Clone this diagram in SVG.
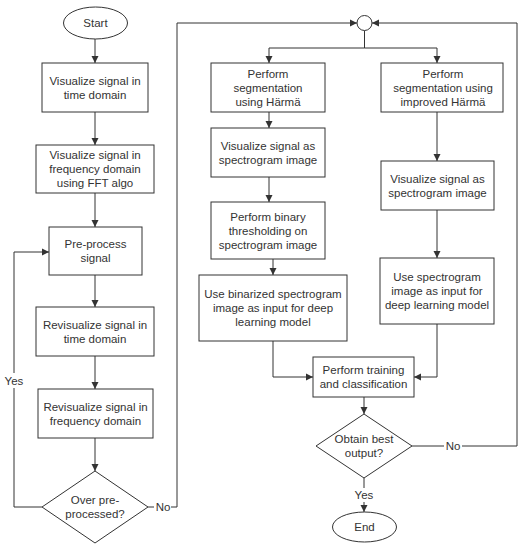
<svg xmlns="http://www.w3.org/2000/svg" width="524" height="550" viewBox="0 0 524 550">
<style>
.n{fill:#fff;stroke:#333;stroke-width:1}
.t{font-family:"Liberation Sans",Arial,sans-serif;font-size:11.5px;fill:#333;text-anchor:middle}
.c{fill:none;stroke:#333;stroke-width:1}
.lb{fill:#fff}
</style>
<defs>
<marker id="ah" markerWidth="8" markerHeight="8" refX="7" refY="4" orient="auto" markerUnits="userSpaceOnUse">
<path d="M0,0.5 L7,4 L0,7.5 Z" fill="#333"/>
</marker>
</defs>
<rect width="524" height="550" fill="#fff"/>
<g id="connectors">
<path class="c" d="M95,39 V63" marker-end="url(#ah)"/>
<path class="c" d="M95,112 V145" marker-end="url(#ah)"/>
<path class="c" d="M95,193 V227" marker-end="url(#ah)"/>
<path class="c" d="M95,275 V307" marker-end="url(#ah)"/>
<path class="c" d="M95,356 V389" marker-end="url(#ah)"/>
<path class="c" d="M95,438 V471" marker-end="url(#ah)"/>
<path class="c" d="M42,507 H14 V252 H49" marker-end="url(#ah)"/>
<path class="c" d="M148,507 H177 V23 H357" marker-end="url(#ah)"/>
<path class="c" d="M364.5,30.5 V48 H269 V63" marker-end="url(#ah)"/>
<path class="c" d="M364.5,48 H437 V63" marker-end="url(#ah)"/>
<path class="c" d="M269,112 V128" marker-end="url(#ah)"/>
<path class="c" d="M269,177 V202" marker-end="url(#ah)"/>
<path class="c" d="M273,259 V275" marker-end="url(#ah)"/>
<path class="c" d="M273,341 V377 H313" marker-end="url(#ah)"/>
<path class="c" d="M437,112 V161" marker-end="url(#ah)"/>
<path class="c" d="M437,210 V258" marker-end="url(#ah)"/>
<path class="c" d="M437,324 V377 H414" marker-end="url(#ah)"/>
<path class="c" d="M364,397 V414" marker-end="url(#ah)"/>
<path class="c" d="M364,478 V512" marker-end="url(#ah)"/>
<path class="c" d="M412,446 H517 V23 H372" marker-end="url(#ah)"/>
<rect class="lb" x="3" y="373" width="22" height="15"/>
<text class="t" x="14" y="385">Yes</text>
<rect class="lb" x="154" y="500" width="17" height="14"/>
<text class="t" x="163" y="511">No</text>
<rect class="lb" x="352" y="488" width="24" height="14"/>
<text class="t" x="364" y="499">Yes</text>
<rect class="lb" x="444" y="439" width="18" height="14"/>
<text class="t" x="453" y="450">No</text>
</g>
<g id="start"><ellipse class="n" cx="95.5" cy="23" rx="32" ry="16"/><text class="t" x="95.5" y="27">Start</text></g>
<g id="b1"><rect class="n" x="42" y="63" width="106" height="49"/><text class="t" x="95" y="84.5">Visualize signal in</text><text class="t" x="95" y="98.5">time domain</text></g>
<g id="b2"><rect class="n" x="36" y="145" width="118" height="48"/><text class="t" x="95" y="159">Visualize signal in</text><text class="t" x="95" y="173">frequency domain</text><text class="t" x="95" y="187">using FFT algo</text></g>
<g id="b3"><rect class="n" x="49" y="227" width="93" height="48"/><text class="t" x="95.5" y="248">Pre-process</text><text class="t" x="95.5" y="262">signal</text></g>
<g id="b4"><rect class="n" x="36" y="307" width="118" height="49"/><text class="t" x="95" y="328.5">Revisualize signal in</text><text class="t" x="95" y="342.5">time domain</text></g>
<g id="b5"><rect class="n" x="38" y="389" width="115" height="49"/><text class="t" x="95.5" y="410.5">Revisualize signal in</text><text class="t" x="95.5" y="424.5">frequency domain</text></g>
<g id="d1"><polygon class="n" points="95,471 148,507 95,543 42,507"/><text class="t" x="95" y="504">Over pre-</text><text class="t" x="95" y="518">processed?</text></g>
<g id="join"><circle class="n" cx="364.5" cy="23" r="7.5"/></g>
<g id="l1"><rect class="n" x="211" y="63" width="114" height="49"/><text class="t" x="268" y="77.5">Perform</text><text class="t" x="268" y="91.5">segmentation</text><text class="t" x="268" y="105.5">using Härmä</text></g>
<g id="l2"><rect class="n" x="211" y="128" width="114" height="49"/><text class="t" x="268" y="149.5">Visualize signal as</text><text class="t" x="268" y="163.5">spectrogram image</text></g>
<g id="l3"><rect class="n" x="211" y="202" width="114" height="57"/><text class="t" x="268" y="220.5">Perform binary</text><text class="t" x="268" y="234.5">thresholding on</text><text class="t" x="268" y="248.5">spectrogram image</text></g>
<g id="l4"><rect class="n" x="199" y="275" width="148" height="66"/><text class="t" x="273" y="298">Use binarized spectrogram</text><text class="t" x="273" y="312">image as input for deep</text><text class="t" x="273" y="326">learning model</text></g>
<g id="r1"><rect class="n" x="381" y="63" width="122" height="49"/><text class="t" x="443" y="77.5">Perform</text><text class="t" x="443" y="91.5">segmentation using</text><text class="t" x="443" y="105.5">improved Härmä</text></g>
<g id="r2"><rect class="n" x="381" y="161" width="113" height="49"/><text class="t" x="437.5" y="182.5">Visualize signal as</text><text class="t" x="437.5" y="196.5">spectrogram image</text></g>
<g id="r3"><rect class="n" x="380" y="258" width="114" height="66"/><text class="t" x="437" y="281">Use spectrogram</text><text class="t" x="437" y="295">image as input for</text><text class="t" x="437" y="309">deep learning model</text></g>
<g id="train"><rect class="n" x="313" y="357" width="101" height="40"/><text class="t" x="363.5" y="374">Perform training</text><text class="t" x="363.5" y="388">and classification</text></g>
<g id="d2"><polygon class="n" points="364,414 412,446 364,478 316,446"/><text class="t" x="364" y="443">Obtain best</text><text class="t" x="364" y="457">output?</text></g>
<g id="end"><ellipse class="n" cx="364.5" cy="527" rx="32" ry="15"/><text class="t" x="364.5" y="531">End</text></g>
</svg>
